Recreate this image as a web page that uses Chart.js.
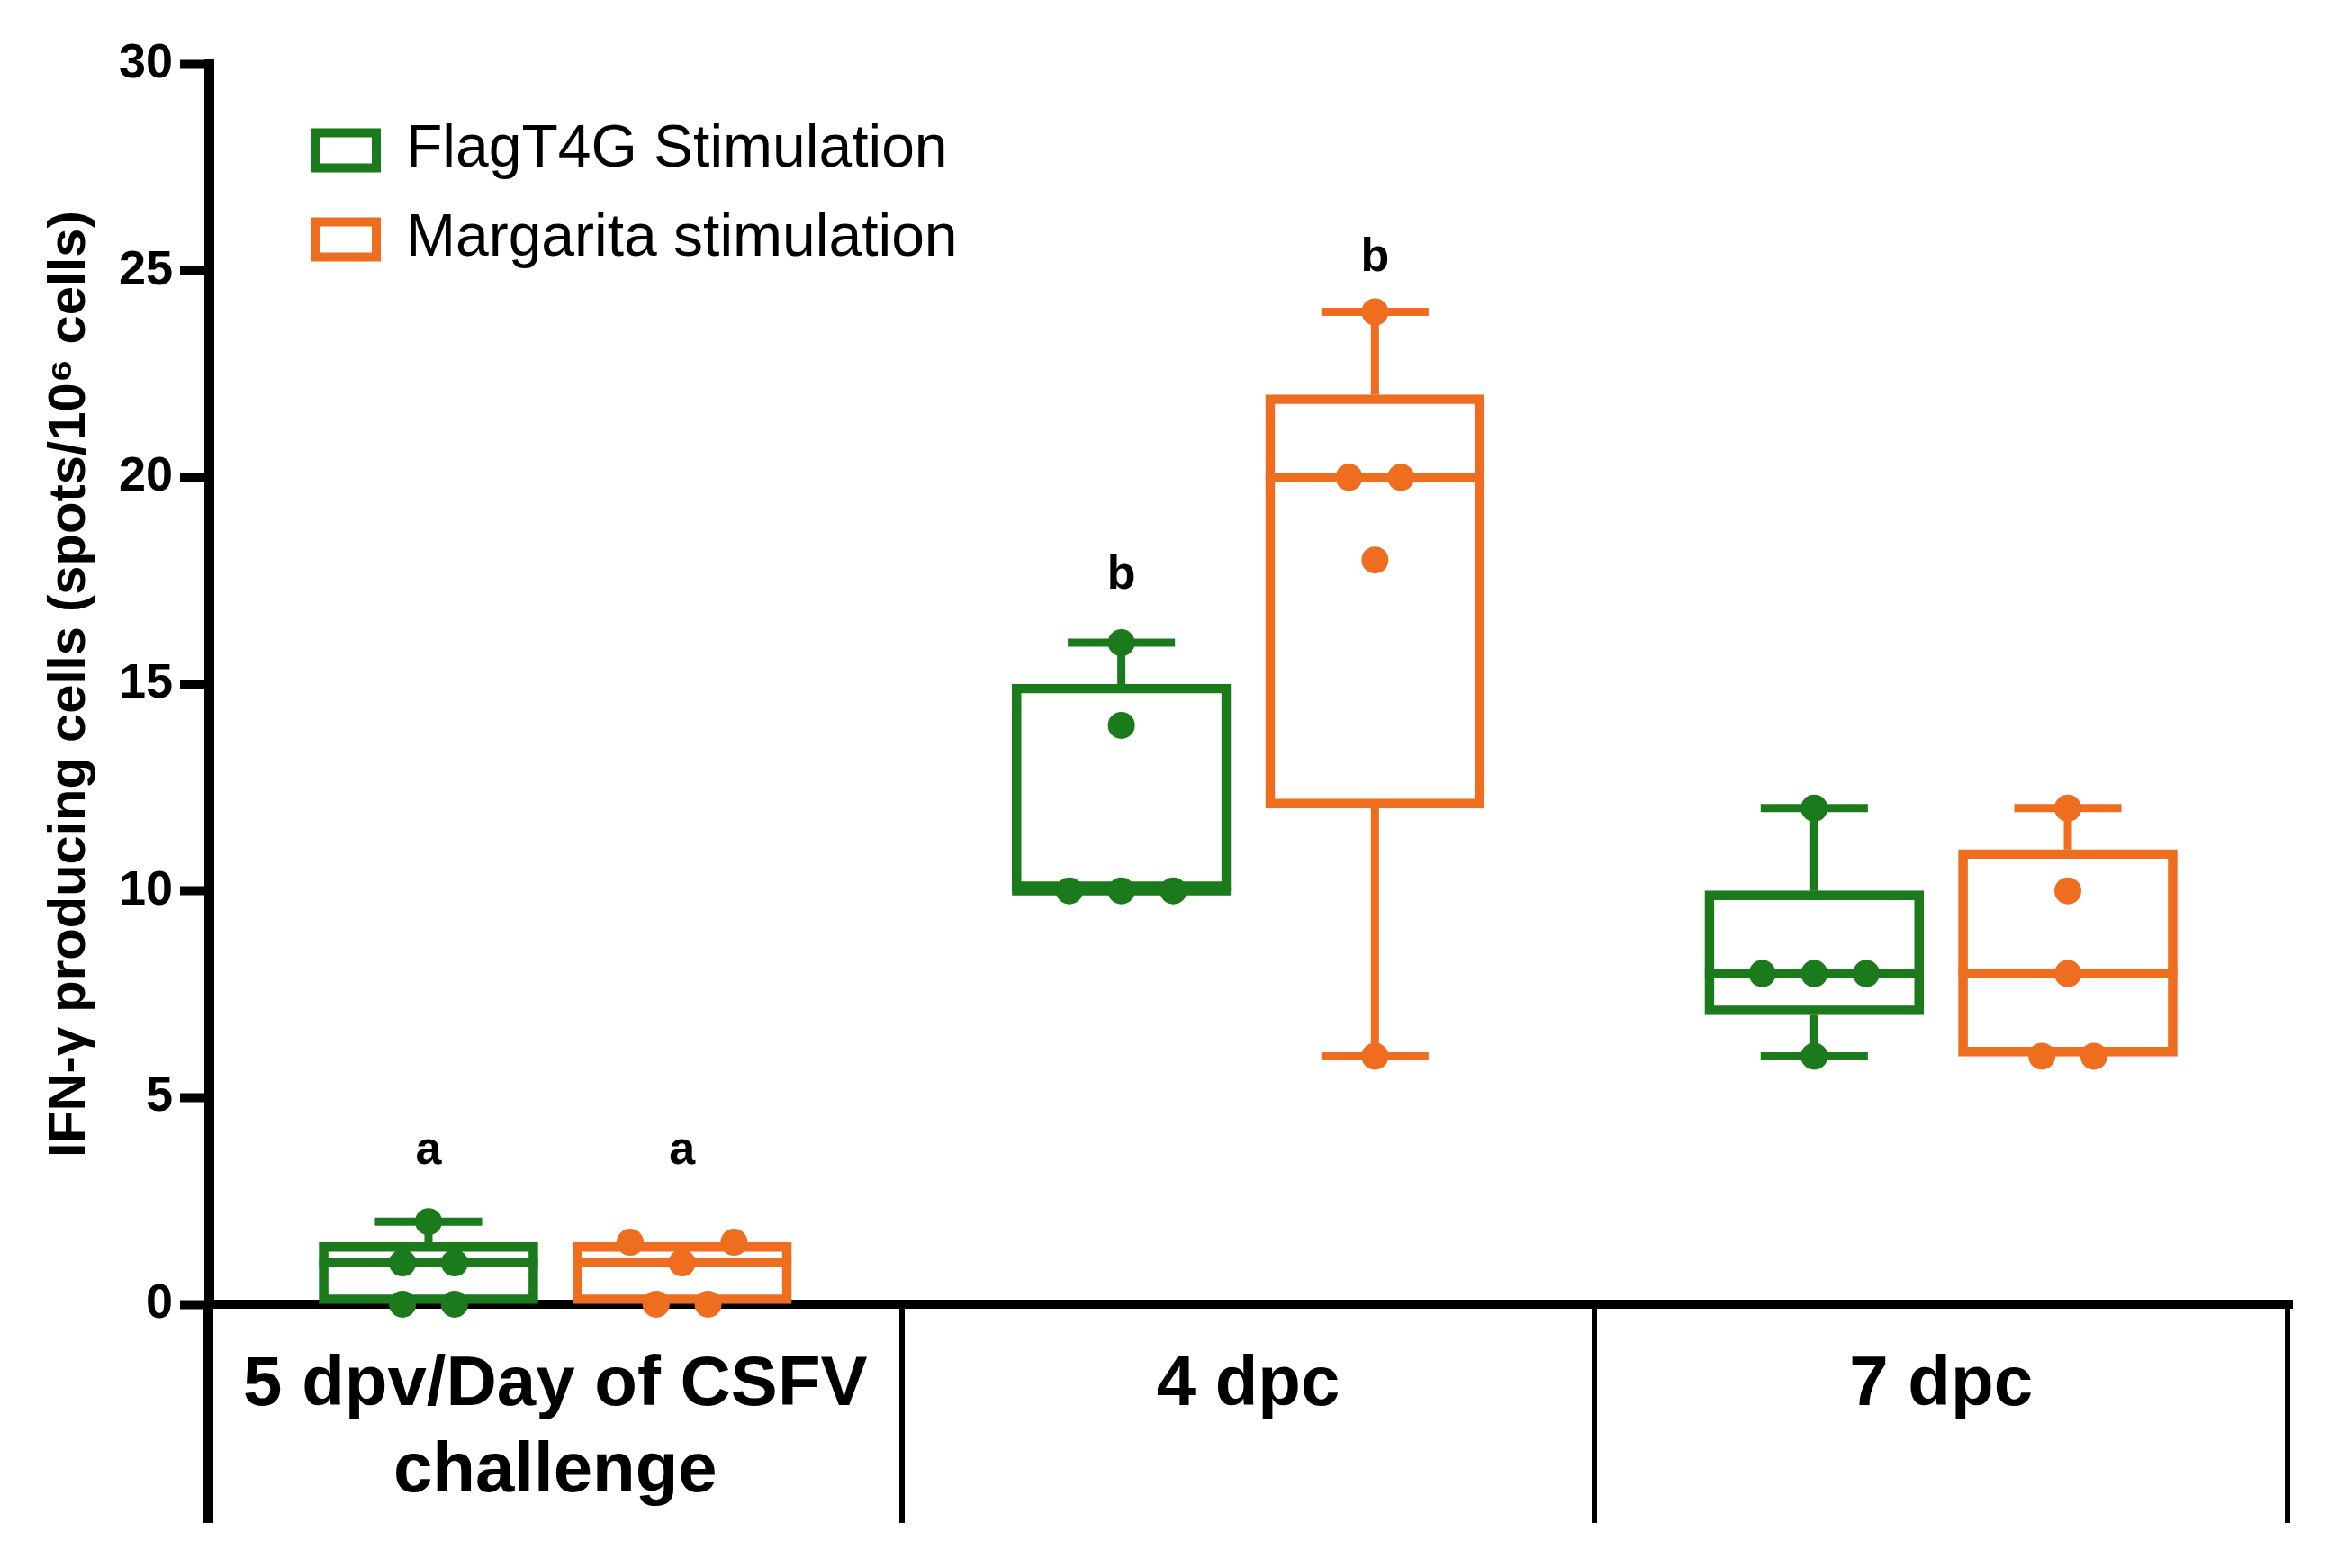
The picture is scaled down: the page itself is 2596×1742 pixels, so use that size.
<!DOCTYPE html>
<html>
<head>
<meta charset="utf-8">
<script src="https://cdn.jsdelivr.net/npm/chart.js@4.4.1/dist/chart.umd.min.js"></script>
<style>
  html, body { margin: 0; padding: 0; background: #fff; }
  canvas { display: block; }
</style>
</head>
<body>
<canvas id="chart" width="2596" height="1742"></canvas>
<script>
// ---- values ----
const categories = [['5 dpv/Day of CSFV', 'challenge'], '4 dpc', '7 dpc'];
const seriesNames = ['FlagT4G Stimulation', 'Margarita stimulation'];
const seriesColors = ['#1a7a1c', '#ef6d1f'];
const yTicks = [0, 5, 10, 15, 20, 25, 30];

// box statistics per time point (min, Q1, median, Q3, max)
const flagMin = [0, 10, 6];
const flagQ1 = [0, 10, 7];
const flagMedian = [1, 10, 8];
const flagQ3 = [1.5, 15, 10];
const flagMax = [2, 16, 12];

const margMin = [0, 6, 6];
const margQ1 = [0, 12, 6];
const margMedian = [1, 20, 8];
const margQ3 = [1.5, 22, 11];
const margMax = [1.5, 24, 12];

// single animals, and their sideways slot in the swarm
const flagPoints = [[0, 0, 1, 1, 2], [10, 10, 10, 14, 16], [6, 8, 8, 8, 12]];
const flagSlots = [[-1, 1, -1, 1, 0], [-2, 0, 2, 0, 0], [0, -2, 0, 2, 0]];
const margPoints = [[0, 0, 1, 1.5, 1.5], [6, 18, 20, 20, 24], [6, 6, 8, 10, 12]];
const margSlots = [[-1, 1, 0, -2, 2], [0, 0, -1, 1, 0], [-1, 1, 0, 0, 0]];

// significance letters and the value where their baseline sits
const flagLetters = ['a', 'b', ''];
const margLetters = ['a', 'b', ''];
const flagLetterAt = [3.4, 17.3, null];
const margLetterAt = [3.4, 25.0, null];

// ---- layout ----
const FONT = "'Liberation Sans', Arial, Helvetica, sans-serif";
const groupShift = 0.183;   // box centre left/right of the time point, in category units
const slotUnit = 0.0375;    // half the gap between neighbouring dots
const boxWidthPx = 243;

Chart.defaults.font.family = FONT;
Chart.defaults.color = '#000';

function swarm(values, slots, side) {
  const pts = [];
  values.forEach((vals, c) => {
    vals.forEach((v, k) => {
      pts.push({ x: c + side * groupShift + slots[c][k] * slotUnit, y: v });
    });
  });
  return pts;
}

function boxes(q1, q3, side) {
  return q1.map((q, i) => ({ x: i + side * groupShift, y: [q, q3[i]] }));
}

// medians, whiskers and letters, drawn off the bar elements and the y scale
const boxExtras = {
  id: 'boxExtras',
  afterDatasetDraw(chart, args) {
    const ds = chart.data.datasets[args.index];
    if (!ds.stats) return;
    const y = chart.scales.y;
    const ctx = chart.ctx;
    const s = ds.stats;
    ctx.save();
    ctx.strokeStyle = ds.borderColor;
    ctx.lineCap = 'butt';
    args.meta.data.forEach((bar, i) => {
      const half = bar.width / 2;
      const cap = bar.width * 0.245;
      const yMed = y.getPixelForValue(s.median[i]);
      ctx.lineWidth = 10;
      ctx.beginPath();
      ctx.moveTo(bar.x - half, yMed);
      ctx.lineTo(bar.x + half, yMed);
      ctx.stroke();
      ctx.lineWidth = 9;
      if (s.max[i] > s.q3[i]) {
        const yTop = y.getPixelForValue(s.max[i]);
        ctx.beginPath();
        ctx.moveTo(bar.x, y.getPixelForValue(s.q3[i]));
        ctx.lineTo(bar.x, yTop);
        ctx.moveTo(bar.x - cap, yTop);
        ctx.lineTo(bar.x + cap, yTop);
        ctx.stroke();
      }
      if (s.min[i] < s.q1[i]) {
        const yBot = y.getPixelForValue(s.min[i]);
        ctx.beginPath();
        ctx.moveTo(bar.x, y.getPixelForValue(s.q1[i]));
        ctx.lineTo(bar.x, yBot);
        ctx.moveTo(bar.x - cap, yBot);
        ctx.lineTo(bar.x + cap, yBot);
        ctx.stroke();
      }
    });
    ctx.restore();
  },
  afterDatasetsDraw(chart) {
    const y = chart.scales.y;
    const ctx = chart.ctx;
    ctx.save();
    ctx.fillStyle = '#000';
    ctx.font = 'bold 52px ' + FONT;
    ctx.textAlign = 'center';
    ctx.textBaseline = 'alphabetic';
    chart.data.datasets.forEach((ds, di) => {
      if (!ds.letters) return;
      const meta = chart.getDatasetMeta(di);
      meta.data.forEach((bar, i) => {
        if (!ds.letters[i]) return;
        ctx.fillText(ds.letters[i], bar.x, y.getPixelForValue(ds.letterAt[i]));
      });
    });
    ctx.restore();
  }
};

// put the legend in the upper left corner of the plot
const legendPlace = {
  id: 'legendPlace',
  afterLayout(chart) {
    const lg = chart.legend;
    lg.left = chart.chartArea.left + 85;
    lg.top = chart.chartArea.top + 30;
  }
};

function boxDataset(i, q1, q3, stats, letters, letterAt, side) {
  return {
    label: seriesNames[i],
    data: boxes(q1, q3, side),
    xAxisID: 'xp',
    stats: stats,
    letters: letters,
    letterAt: letterAt,
    backgroundColor: 'rgba(255,255,255,0)',
    borderColor: seriesColors[i],
    borderWidth: 10,
    borderSkipped: false,
    grouped: false,
    categoryPercentage: 1,
    barPercentage: 1,
    maxBarThickness: boxWidthPx,
    order: 2
  };
}

function pointDataset(i, values, slots, side) {
  return {
    type: 'line',
    label: seriesNames[i] + ' points',
    data: swarm(values, slots, side),
    xAxisID: 'xp',
    showLine: false,
    pointRadius: 15,
    pointHoverRadius: 15,
    pointBorderWidth: 0,
    backgroundColor: seriesColors[i],
    borderColor: seriesColors[i],
    clip: false,
    order: 0
  };
}

new Chart(document.getElementById('chart'), {
  type: 'bar',
  data: {
    labels: categories,
    datasets: [
      boxDataset(0, flagQ1, flagQ3,
        { min: flagMin, q1: flagQ1, median: flagMedian, q3: flagQ3, max: flagMax },
        flagLetters, flagLetterAt, -1),
      boxDataset(1, margQ1, margQ3,
        { min: margMin, q1: margQ1, median: margMedian, q3: margQ3, max: margMax },
        margLetters, margLetterAt, 1),
      pointDataset(0, flagPoints, flagSlots, -1),
      pointDataset(1, margPoints, margSlots, 1)
    ]
  },
  options: {
    responsive: false,
    animation: false,
    devicePixelRatio: 1,
    layout: { padding: { top: 71, right: 55, left: 0, bottom: 0 } },
    plugins: {
      tooltip: { enabled: false },
      legend: {
        position: 'chartArea',
        align: 'start',
        labels: {
          font: { size: 66, family: FONT },
          color: '#000',
          boxWidth: 68,
          boxHeight: 39,
          padding: 33,
          generateLabels: () => seriesNames.map((name, i) => ({
            text: name,
            fillStyle: '#fff',
            strokeStyle: seriesColors[i],
            lineWidth: 10,
            hidden: false,
            datasetIndex: i,
            fontColor: '#000'
          }))
        }
      }
    },
    scales: {
      x: {
        type: 'category',
        offset: true,
        grid: {
          offset: true,
          drawOnChartArea: false,
          drawTicks: true,
          tickLength: 243,
          color: '#000',
          lineWidth: (c) => (c.index === 0 ? 11 : 6)
        },
        border: { display: true, width: 10, color: '#000' },
        ticks: {
          color: '#000',
          font: { size: 78, weight: 'bold', lineHeight: 1.23 },
          padding: -200,
          maxRotation: 0,
          autoSkip: false
        },
        afterFit: (s) => { s.height = 293; }
      },
      xp: {
        type: 'linear',
        min: -0.5,
        max: 2.5,
        offset: false,
        grid: { offset: false },
        ticks: { stepSize: 0.5 },
        display: false
      },
      y: {
        min: 0,
        max: 30,
        afterBuildTicks: (s) => { s.ticks = yTicks.map(v => ({ value: v })); },
        grid: {
          drawOnChartArea: false,
          drawTicks: true,
          tickLength: 32,
          tickWidth: 10,
          color: '#000'
        },
        border: { display: true, width: 11, color: '#000' },
        ticks: {
          color: '#000',
          font: { size: 54, weight: 'bold' },
          padding: 8
        },
        title: {
          display: true,
          text: 'IFN-γ producing cells (spots/10⁶ cells)',
          color: '#000',
          font: { size: 58, weight: 'bold' },
          padding: { top: 43, bottom: 0 }
        },
        afterFit: (s) => { s.width = 232; }
      }
    }
  },
  plugins: [boxExtras, legendPlace]
});
</script>
</body>
</html>
